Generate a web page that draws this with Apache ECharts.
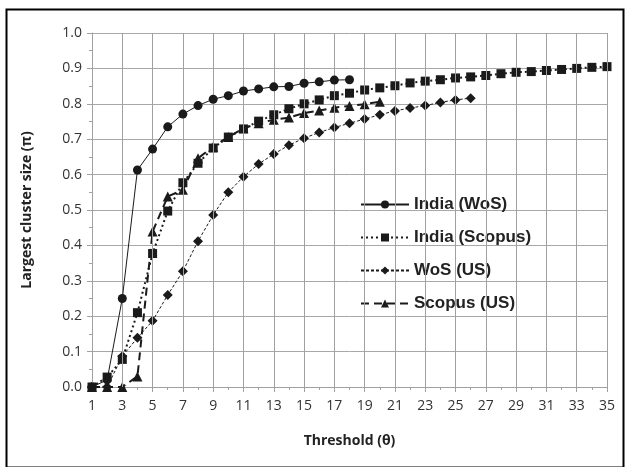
<!DOCTYPE html>
<html>
<head>
<meta charset="utf-8">
<script src="https://cdn.jsdelivr.net/npm/echarts@6/dist/echarts.min.js"></script>
<style>
html,body{margin:0;padding:0;background:#fff;}
#c{width:625px;height:467px;}
</style>
</head>
<body>
<div id="c"></div>
<script>
const thresholds = Array.from({length:35}, (_, i) => i + 1);
const indiaWoS = [0, 0.02, 0.25, 0.613, 0.672, 0.735, 0.771, 0.795, 0.813, 0.823, 0.836, 0.842, 0.848, 0.849, 0.858, 0.862, 0.867, 0.868];
const indiaScopus = [0, 0.028, 0.078, 0.21, 0.377, 0.497, 0.577, 0.632, 0.675, 0.706, 0.729, 0.751, 0.769, 0.786, 0.8, 0.811, 0.823, 0.83, 0.839, 0.845, 0.851, 0.859, 0.864, 0.868, 0.873, 0.876, 0.88, 0.885, 0.889, 0.891, 0.894, 0.897, 0.9, 0.903, 0.905];
const wosUS = [0, 0, 0.087, 0.139, 0.187, 0.26, 0.327, 0.412, 0.486, 0.55, 0.594, 0.63, 0.658, 0.683, 0.703, 0.719, 0.733, 0.745, 0.757, 0.769, 0.78, 0.788, 0.795, 0.804, 0.811, 0.816];
const scopusUS = [0, 0, 0, 0.03, 0.439, 0.538, 0.557, 0.646, 0.679, 0.706, 0.731, 0.745, 0.755, 0.761, 0.774, 0.781, 0.789, 0.794, 0.799, 0.806];
const xTicks = thresholds.filter(t => t % 2 === 1);

const pairs = vals => vals.map((v, i) => [thresholds[i], v]);
const ink = '#1a1a1a';
const gridColor = '#a8a8a8';
const vGridColor = '#a0a0a0';
const axisColor = '#a0a0a0';
const chart = echarts.init(document.getElementById('c'));
chart.setOption({
  animation: false,
  backgroundColor: '#fff',
  graphic: [{
    type: 'rect', left: 4, top: 7, shape: {width: 617, height: 458},
    style: {fill: null, stroke: '#000', lineWidth: 2}, silent: true, z: -1
  }],
  grid: {left: 92, top: 33, width: 515, height: 354, containLabel: false},
  legend: {
    orient: 'vertical', left: 355, top: 191,
    itemWidth: 48, itemHeight: 10, itemGap: 16,
    textStyle: {fontFamily: 'Liberation Sans', fontWeight: 'bold', fontSize: 17, color: '#222', lineHeight: 17},
    data: ['India (WoS)', 'India (Scopus)', 'WoS (US)', 'Scopus (US)']
  },
  xAxis: {
    type: 'value', min: 1, max: 35, interval: 2,
    name: 'Threshold (θ)', nameLocation: 'middle', nameGap: 47,
    nameTextStyle: {fontFamily: 'Open Sans', fontWeight: 'bold', fontSize: 14, color: '#222'},
    axisLine: {show: true, onZero: false, lineStyle: {color: axisColor, width: 1}},
    axisTick: {show: true, length: 5, lineStyle: {color: axisColor}},
    minorTick: {show: true, splitNumber: 2, length: 3, lineStyle: {color: axisColor}},
    axisLabel: {margin: 12, fontFamily: 'Open Sans', fontSize: 14, color: '#333'},
    splitLine: {show: true, lineStyle: {color: vGridColor, width: 1}}
  },
  yAxis: {
    type: 'value', min: 0, max: 1, interval: 0.1,
    name: 'Largest cluster size (π)', nameLocation: 'middle', nameGap: 58,
    nameTextStyle: {fontFamily: 'Open Sans', fontWeight: 'bold', fontSize: 14, color: '#222'},
    axisLine: {show: true, lineStyle: {color: axisColor, width: 1}},
    axisTick: {show: true, length: 5, lineStyle: {color: axisColor}},
    minorTick: {show: true, splitNumber: 2, length: 3, lineStyle: {color: axisColor}},
    axisLabel: {margin: 10, fontFamily: 'Open Sans', fontSize: 14, color: '#333', formatter: v => v.toFixed(1)},
    splitLine: {show: true, lineStyle: {color: gridColor, width: 1}}
  },
  series: [
    {name: 'India (WoS)', type: 'line', data: pairs(indiaWoS), symbol: 'circle', symbolSize: 9, showAllSymbol: true,
     itemStyle: {color: ink}, lineStyle: {color: ink, width: 1, type: 'solid'}, z: 5},
    {name: 'India (Scopus)', type: 'line', data: pairs(indiaScopus), symbol: 'rect', symbolSize: 9, showAllSymbol: true,
     itemStyle: {color: ink}, lineStyle: {color: ink, width: 2, type: [2, 3]}, z: 4},
    {name: 'WoS (US)', type: 'line', data: pairs(wosUS), symbol: 'diamond', symbolSize: 10, showAllSymbol: true,
     itemStyle: {color: ink}, lineStyle: {color: ink, width: 1, type: [3, 2]}, z: 3},
    {name: 'Scopus (US)', type: 'line', data: pairs(scopusUS), symbol: 'triangle', symbolSize: 10, showAllSymbol: true,
     itemStyle: {color: ink}, lineStyle: {color: ink, width: 2, type: [8, 5]}, z: 2,
     markLine: {silent: true, symbol: ['none', 'none'], label: {show: false}, animation: false,
       lineStyle: {color: vGridColor, width: 1, type: 'solid'},
       emphasis: {disabled: true},
       data: xTicks.map(t => [{coord: [t, 0]}, {coord: [t, 1]}])}}
  ]
});
</script>
</body>
</html>
